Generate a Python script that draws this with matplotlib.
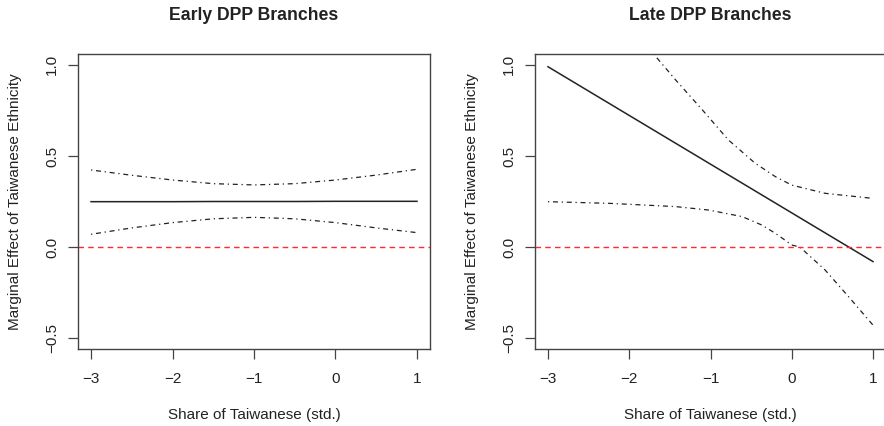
# Marginal effect of Taiwanese ethnicity, early vs late DPP branches.

import matplotlib.pyplot as plt

plt.rcParams['font.family'] = ['Liberation Sans', 'DejaVu Sans']

# early branches
early_x = [-3, -2.5, -2, -1.5, -1, -0.5, 0, 0.5, 1]
early_est = [0.249, 0.249, 0.249, 0.250, 0.250, 0.250, 0.251, 0.251, 0.251]
early_hi = [0.423, 0.394, 0.368, 0.348, 0.341, 0.348, 0.368, 0.395, 0.427]
early_lo = [0.070, 0.105, 0.134, 0.155, 0.163, 0.155, 0.134, 0.105, 0.079]

# late branches
late_x = [-3, 1]
late_est = [0.99, -0.08]
late_hi_x = [-1.70, -1.43, -1.10, -0.78, -0.45, -0.20, 0.0, 0.41, 1.0]
late_hi = [1.06, 0.918, 0.753, 0.588, 0.46, 0.386, 0.34, 0.295, 0.267]
late_lo_x = [-3, -2.25, -1.43, -1.02, -0.61, -0.37, -0.20, 0.0, 0.1, 0.41, 0.70, 1.0]
late_lo = [0.249, 0.24, 0.222, 0.203, 0.167, 0.121, 0.075, 0.011, 0.0, -0.126, -0.273, -0.429]

xticks = [-3, -2, -1, 0, 1]
yticks = [-0.5, 0.0, 0.5, 1.0]
ytick_labels = ['-0.5', '0.0', '0.5', '1.0']

ink = '#222222'
dotdash = (0, (1, 3, 4, 3))

fig = plt.figure(figsize=(8.84, 4.26), dpi=100)
ax1 = fig.add_axes([78 / 884, 77 / 426, 352 / 884, 295 / 426])
ax2 = fig.add_axes([535 / 884, 77 / 426, 351 / 884, 295 / 426])


def style(ax, title):
    ax.axhline(0, color='#ff2a2a', ls=(0, (4, 3)), lw=1.0)
    ax.set_xlim(-3.16, 1.16)
    ax.set_ylim(-0.56, 1.06)
    ax.set_xticks(xticks)
    ax.set_xticklabels([str(t).replace('-', '\u2212') for t in xticks])
    ax.set_yticks(yticks)
    ax.set_yticklabels([t.replace('-', '\u2212') for t in ytick_labels],
                       rotation=90, va='center')
    ax.tick_params(direction='out', length=7.5, width=0.9, colors='#444444',
                   labelcolor=ink, labelsize=11)
    ax.tick_params(axis='x', pad=9)
    ax.tick_params(axis='y', pad=6)
    for s in ax.spines.values():
        s.set_color('#444444')
        s.set_linewidth(1.0)
    ax.set_xlabel('Share of Taiwanese (std.)', fontsize=11, color=ink,
                  va='center')
    ax.xaxis.set_label_coords(0.5, -66 / 295)
    ax.set_ylabel('Marginal Effect of Taiwanese Ethnicity', fontsize=11,
                  color=ink, va='center')
    ax.yaxis.set_label_coords(-63 / 352, 0.5)
    ax.set_title(title, fontsize=12.7, fontweight='bold', color=ink,
                 y=1 + 38 / 295, va='center', pad=0)


ax1.plot(early_x, early_est, color=ink, lw=1.1)
ax1.plot(early_x, early_hi, color=ink, lw=0.9, ls=dotdash)
ax1.plot(early_x, early_lo, color=ink, lw=0.9, ls=dotdash)
style(ax1, 'Early DPP Branches')

ax2.plot(late_x, late_est, color=ink, lw=1.1)
ax2.plot(late_hi_x, late_hi, color=ink, lw=0.9, ls=dotdash)
ax2.plot(late_lo_x, late_lo, color=ink, lw=0.9, ls=dotdash)
style(ax2, 'Late DPP Branches')

fig.savefig('out.png', dpi=100)
